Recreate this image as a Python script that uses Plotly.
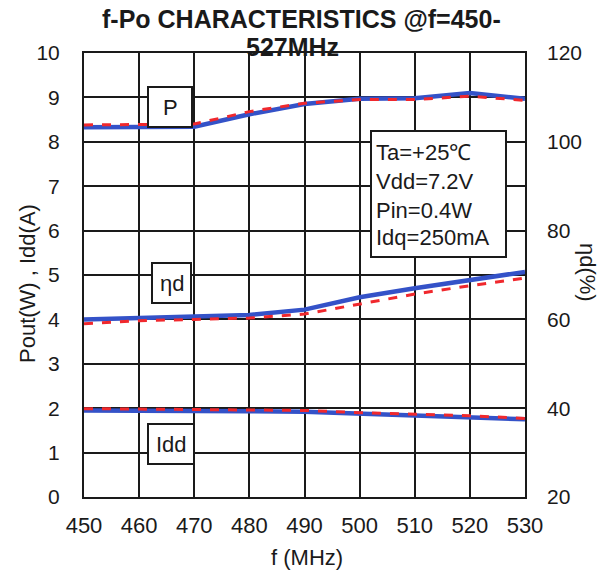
import plotly.graph_objects as go

freq = [450, 460, 470, 480, 490, 500, 510, 520, 530]

pout_blue = [8.33, 8.33, 8.34, 8.62, 8.85, 8.97, 8.98, 9.1, 8.97]
pout_red = [8.38, 8.39, 8.40, 8.68, 8.87, 8.95, 8.95, 9.03, 8.93]

eta_blue = [60.0, 60.3, 60.5, 61.0, 62.2, 65.0, 67.0, 68.9, 70.7]
eta_red = [59.0, 59.7, 60.0, 60.3, 61.2, 63.4, 65.7, 67.6, 69.3]

idd_blue = [1.95, 1.95, 1.94, 1.93, 1.92, 1.88, 1.85, 1.80, 1.75]
idd_red = [1.99, 1.98, 1.97, 1.96, 1.95, 1.90, 1.87, 1.83, 1.77]

x_ticks = [450, 460, 470, 480, 490, 500, 510, 520, 530]
y_ticks = list(range(0, 11))
y2_ticks = [20, 40, 60, 80, 100, 120]

conditions = ["Ta=+25\u2103", "Vdd=7.2V", "Pin=0.4W", "Idq=250mA"]

BLUE = "#3452c8"
RED = "#f0282d"
INK = "#1a1a1a"
FONT = "Liberation Sans, Arial, sans-serif"

fig = go.Figure()

for yb, yr, ax in [(pout_blue, pout_red, "y"), (idd_blue, idd_red, "y"), (eta_blue, eta_red, "y2")]:
    fig.add_trace(go.Scatter(x=freq, y=yb, mode="lines", yaxis=ax,
                             line=dict(color=BLUE, width=4.5), showlegend=False))
    fig.add_trace(go.Scatter(x=freq, y=yr, mode="lines", yaxis=ax,
                             line=dict(color=RED, width=3, dash="dash"), showlegend=False))

W, H = 608, 576
L, R, T, B = 84, 525, 53, 497
pw, ph = R - L, B - T

def px(x):
    return (x - L) / pw

def py(y):
    return (B - y) / ph

annotations = []
# title lines
annotations.append(dict(text="<b>f-Po CHARACTERISTICS @f=450-</b>", xref="paper", yref="paper",
                        x=px(301), y=py(19), showarrow=False, xanchor="center", yanchor="middle",
                        font=dict(family=FONT, size=25, color=INK)))
annotations.append(dict(text="<b>527MHz</b>", xref="paper", yref="paper",
                        x=px(292), y=py(47), showarrow=False, xanchor="center", yanchor="middle",
                        font=dict(family=FONT, size=25, color=INK)))
# axis titles
annotations.append(dict(text="Pout(W) , Idd(A)", xref="paper", yref="paper",
                        x=px(27), y=py(284), showarrow=False, textangle=-90,
                        xanchor="center", yanchor="middle",
                        font=dict(family=FONT, size=22, color=INK)))
annotations.append(dict(text="\u03b7d(%)", xref="paper", yref="paper",
                        x=px(588), y=py(272), showarrow=False, textangle=90,
                        xanchor="center", yanchor="middle",
                        font=dict(family=FONT, size=22, color=INK)))
annotations.append(dict(text="f (MHz)", xref="paper", yref="paper",
                        x=px(307), y=py(557), showarrow=False,
                        xanchor="center", yanchor="middle",
                        font=dict(family=FONT, size=22, color=INK)))
# curve labels
for txt, cx, cy in [("P", 170, 107), ("\u03b7d", 171.5, 283), ("Idd", 171, 444)]:
    annotations.append(dict(text=txt, xref="paper", yref="paper", x=px(cx), y=py(cy),
                            showarrow=False, xanchor="center", yanchor="middle",
                            font=dict(family=FONT, size=22, color=INK)))
# conditions box text
for txt, ly in zip(conditions, [152, 181, 210, 238]):
    annotations.append(dict(text=txt, xref="paper", yref="paper", x=px(374), y=py(ly),
                            showarrow=False, xanchor="left", yanchor="middle",
                            font=dict(family=FONT, size=22, color=INK)))

shapes = []
for x0, y0, x1, y1 in [(148, 87, 192, 127), (152, 263, 191, 303), (148, 424, 194, 464), (371, 131, 506, 257)]:
    shapes.append(dict(type="rect", xref="paper", yref="paper",
                       x0=px(x0), x1=px(x1), y0=py(y1), y1=py(y0),
                       line=dict(color=INK, width=2), fillcolor="white", layer="above"))

fig.update_layout(
    width=W, height=H,
    margin=dict(l=L, r=W - R, t=T, b=H - B),
    paper_bgcolor="white", plot_bgcolor="white",
    font=dict(family=FONT, size=21, color=INK),
    xaxis=dict(range=[450, 530], tickvals=x_ticks, showgrid=True, gridcolor=INK, gridwidth=2,
               showline=True, linecolor=INK, linewidth=2, mirror=True, ticks="",
               ticklabelstandoff=8, tickfont=dict(size=22), zeroline=False),
    yaxis=dict(range=[0, 10], tickvals=y_ticks, showgrid=True, gridcolor=INK, gridwidth=2,
               showline=True, linecolor=INK, linewidth=2, mirror=True, ticks="",
               ticklabelstandoff=18, tickfont=dict(size=21), zeroline=False),
    yaxis2=dict(range=[20, 120], tickvals=y2_ticks, overlaying="y", side="right", showgrid=False,
                showline=False, ticks="", ticklabelstandoff=21, tickfont=dict(size=21), zeroline=False),
    annotations=annotations,
    shapes=shapes,
    showlegend=False,
)

fig.write_html("out.html")
